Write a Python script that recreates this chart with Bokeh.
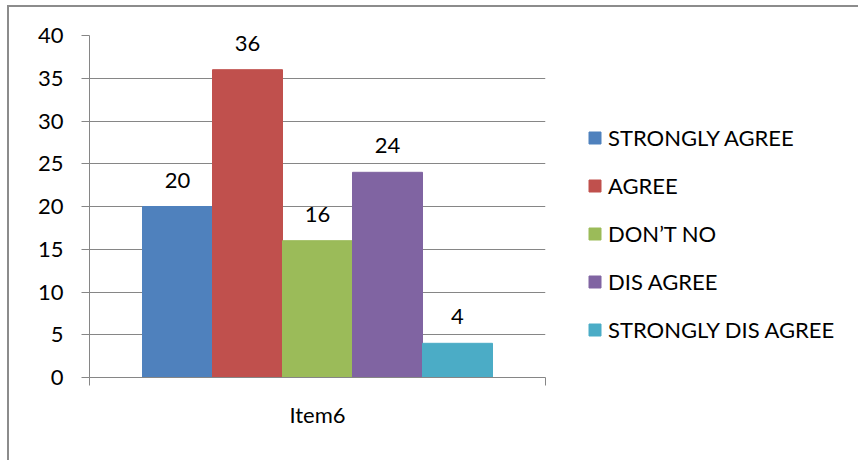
from bokeh.plotting import figure
from bokeh.models import (ColumnDataSource, FixedTicker, LinearAxis, Legend,
                          LegendItem, Grid, Range1d)
from bokeh.core.properties import value
from bokeh.embed import file_html
from bokeh.resources import INLINE

# data
category = "Item6"
series = ["STRONGLY AGREE", "AGREE", "DON\u2019T NO", "DIS AGREE", "STRONGLY DIS AGREE"]
counts = [20, 36, 16, 24, 4]
colors = ["#4F81BD", "#C0504D", "#9BBB59", "#8064A2", "#4BACC6"]
y_ticks = [0, 5, 10, 15, 20, 25, 30, 35, 40]

FONT = "Lato"
FS = "22px"
GRID = "#868686"

# bar geometry inside the single category slot [0, 1]
bar_w = 70 / 456
gap = (1 - bar_w * len(series)) / 2
xs = [gap + bar_w * (i + 0.5) for i in range(len(series))]

src = ColumnDataSource(dict(x=xs, top=counts, color=colors, name=series,
                            label=[str(c) for c in counts]))

p = figure(frame_width=456, frame_height=342, output_backend="svg",
           toolbar_location=None,
           x_range=Range1d(0, 1), y_range=Range1d(0, 40),
           x_axis_type=None, y_axis_type=None,
           min_border_left=80, min_border_right=313,
           min_border_top=28, min_border_bottom=83)
p.outline_line_color = None
p.background_fill_color = "white"
p.border_fill_color = "white"
# chart border: only its top and left edges fall inside the page
p.margin = (5, 0, 0, 7)
p.styles = {"border-top": "2px solid #8c8c8c", "border-left": "2px solid #8c8c8c"}

# y axis
yax = LinearAxis(ticker=FixedTicker(ticks=y_ticks))
yax.axis_line_color = GRID
yax.major_tick_line_color = GRID
yax.major_tick_out = 8
yax.major_tick_in = 0
yax.minor_tick_line_color = None
yax.major_label_text_font = FONT
yax.major_label_text_font_size = FS
yax.major_label_text_color = "black"
yax.major_label_standoff = 18
p.add_layout(yax, "left")

# x axis: tick marks at the slot edges, category name in the middle
xax = LinearAxis(ticker=FixedTicker(ticks=[0.5], minor_ticks=[0, 1]))
xax.axis_line_color = GRID
xax.major_tick_line_color = None
xax.major_tick_out = 0
xax.major_tick_in = 0
xax.minor_tick_line_color = GRID
xax.minor_tick_out = 8
xax.minor_tick_in = 0
xax.major_label_overrides = {0.5: category}
xax.major_label_text_font = FONT
xax.major_label_text_font_size = FS
xax.major_label_text_color = "black"
xax.major_label_standoff = 15
p.add_layout(xax, "below")

p.add_layout(Grid(dimension=1, ticker=FixedTicker(ticks=y_ticks),
                  grid_line_color=GRID))

r = p.vbar(x="x", top="top", bottom=0, width=bar_w, color="color", source=src)

p.text(x="x", y="top", text="label", source=src, text_align="center",
       text_baseline="bottom", y_offset=-19, text_font=value(FONT),
       text_font_size=FS, text_color="black")

items = [LegendItem(label=s, renderers=[r], index=i) for i, s in enumerate(series)]
legend = Legend(items=items, location=(42, 34))
legend.border_line_color = None
legend.background_fill_alpha = 0
legend.glyph_width = 15
legend.glyph_height = 15
legend.label_height = 20
legend.spacing = 21
legend.label_standoff = 6
legend.label_text_font = FONT
legend.label_text_font_size = FS
legend.label_text_color = "black"
legend.padding = 0
legend.margin = 0
legend.label_text_baseline = "middle"
p.add_layout(legend, "right")

open("out.html", "w").write(file_html(p, INLINE))
